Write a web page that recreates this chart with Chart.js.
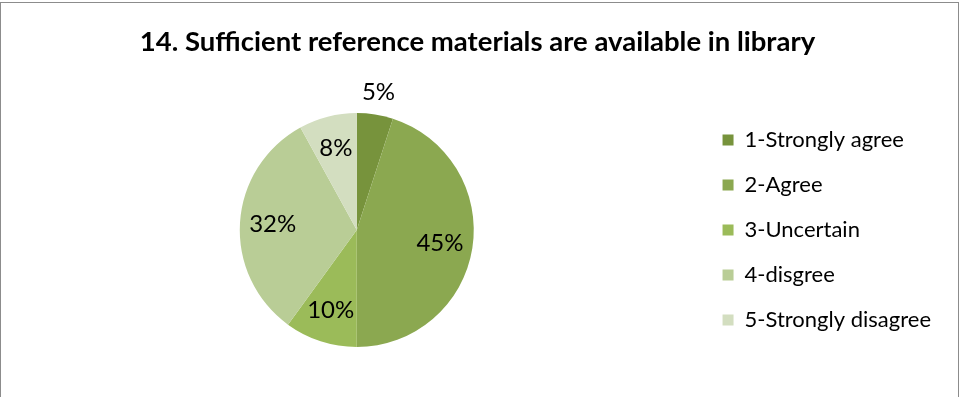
<!DOCTYPE html>
<html>
<head>
<meta charset="utf-8">
<script src="https://cdn.jsdelivr.net/npm/chart.js@4"></script>
<style>
  html, body { margin: 0; padding: 0; background: #fff; }
  #wrap { position: relative; width: 960px; height: 397px; }
</style>
</head>
<body>
<div id="wrap"><canvas id="pieChart" width="960" height="397"></canvas></div>
<script>
// chart data
const title = '14. Sufficient reference materials are available in library';
const categories = ['1-Strongly agree', '2-Agree', '3-Uncertain', '4-disgree', '5-Strongly disagree'];
const percents = [5, 45, 10, 32, 8];
const colors = ['#77933C', '#8BA850', '#9BBB59', '#B9CD96', '#D3DEC0'];

// outer frame like the spreadsheet chart border
const framePlugin = {
    id: 'frame',
    beforeDraw(chart) {
        const ctx = chart.ctx;
        ctx.save();
        ctx.strokeStyle = '#8c8c8c';
        ctx.lineWidth = 1;
        ctx.strokeRect(0.5, 2.5, 958, 420);
        ctx.restore();
    }
};

// percentage labels, placed from each arc's own geometry
const sliceLabels = {
    id: 'sliceLabels',
    afterDatasetsDraw(chart) {
        const ctx = chart.ctx;
        const meta = chart.getDatasetMeta(0);
        ctx.save();
        ctx.font = '24px Lato';
        ctx.fillStyle = '#000';
        ctx.textAlign = 'center';
        ctx.textBaseline = 'middle';
        meta.data.forEach((arc, i) => {
            const p = arc.getProps(['x', 'y', 'startAngle', 'endAngle', 'outerRadius'], true);
            const mid = (p.startAngle + p.endAngle) / 2;
            const r = percents[i] < 6 ? p.outerRadius + 22 : p.outerRadius * 0.72;
            ctx.fillText(percents[i] + '%', p.x + Math.cos(mid) * r, p.y + Math.sin(mid) * r);
        });
        ctx.restore();
    }
};

new Chart(document.getElementById('pieChart'), {
    type: 'pie',
    data: {
        labels: categories,
        datasets: [{
            data: percents,
            backgroundColor: colors,
            borderWidth: 0,
            radius: 117
        }]
    },
    options: {
        responsive: false,
        animation: false,
        layout: { padding: { top: 0, left: 14, right: 19, bottom: 43 } },
        plugins: {
            title: {
                display: true,
                text: title,
                color: '#000',
                font: { family: 'Lato', size: 27.5, weight: 'bold' },
                padding: { top: 26, bottom: 47 }
            },
            legend: {
                position: 'right',
                align: 'end',
                labels: {
                    color: '#000',
                    font: { family: 'Lato', size: 22 },
                    boxWidth: 11,
                    boxHeight: 11,
                    padding: 23
                }
            },
            tooltip: { enabled: false }
        }
    },
    plugins: [framePlugin, sliceLabels]
});
</script>
</body>
</html>
